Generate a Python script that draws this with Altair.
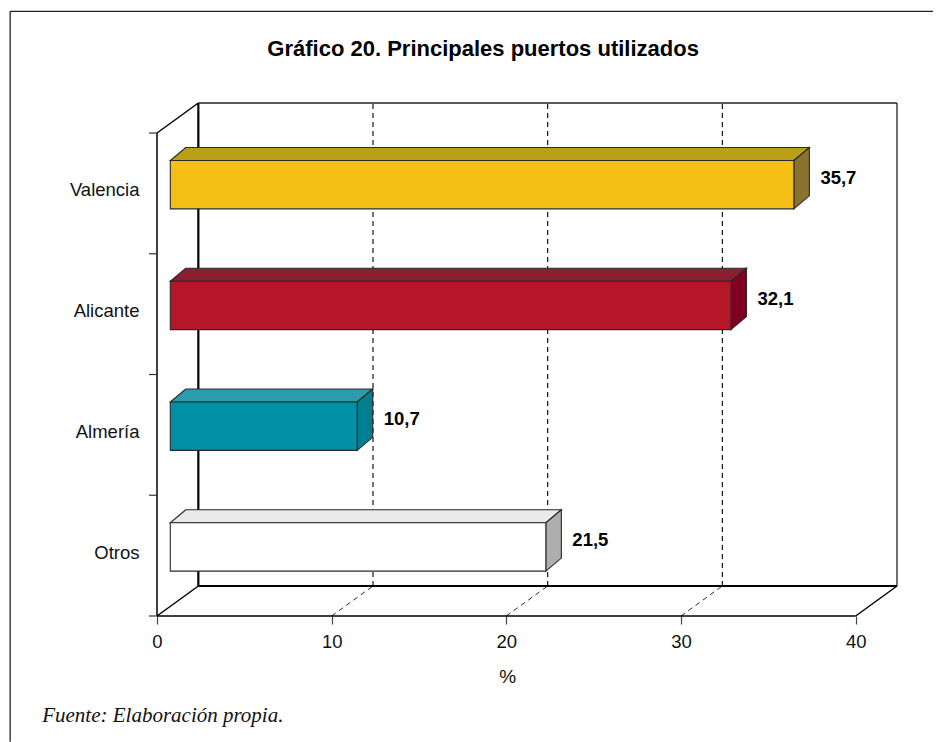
import altair as alt
import pandas as pd

categories = ["Otros", "Almería", "Alicante", "Valencia"]
values = [21.5, 10.7, 32.1, 35.7]
value_labels = ["21,5", "10,7", "32,1", "35,7"]
front_colors = ["#FFFFFF", "#0090A5", "#B51628", "#F5C013"]
top_colors = ["#EAEAEA", "#2B9CAE", "#8A202E", "#BBA017"]
side_colors = ["#AEAEAE", "#017F90", "#7F0022", "#8B7230"]
x_ticks = [0, 10, 20, 30, 40]
grid_ticks = [10, 20, 30]
title_text = "Gráfico 20. Principales puertos utilizados"
axis_title = "%"
source_text = "Fuente: Elaboración propia."

# scale factors of the picture
PX_X = 17.45      # px per x unit
PX_Y = 120.75     # px per category band
WALL_DX = 41.3 / PX_X
WALL_DY = 30.0 / PX_Y
BAR_X0 = 13.3 / PX_X
BAR_DX = 15.5 / PX_X
BAR_DY = 13.0 / PX_Y
BAR_LOW = 0.372
BAR_HIGH = 0.772
X_MAX = 40 + WALL_DX
Y_MAX = 4 + WALL_DY
X_LEFT_EDGE = (10.0 - 156.7) / PX_X
X_RIGHT_EDGE = (932.0 - 156.7) / PX_X
Y_TOP_EDGE = (615.7 - 11.0) / PX_Y
Y_BOTTOM_EDGE = (615.7 - 741.5) / PX_Y

xs = alt.Scale(domain=[0, X_MAX], nice=False, zero=False)
ys = alt.Scale(domain=[0, Y_MAX], nice=False, zero=False)

x_axis = alt.Axis(
    values=x_ticks, format="d", grid=False, domain=False, title=axis_title,
    tickSize=8, tickColor="#444444", tickWidth=1.2,
    labelFont="Liberation Sans", labelFontSize=18.5, labelColor="#111111",
    labelPadding=8, labelFlush=False,
    titleFont="Liberation Sans", titleFontSize=19, titleFontWeight="normal",
    titleColor="#111111", titleX=350.3, titlePadding=17,
)
label_positions = [i + 0.53 for i in range(len(categories))]
y_axis = alt.Axis(
    values=label_positions, grid=False, domain=False, ticks=False, title=None,
    labelExpr="['Otros','Almería','Alicante','Valencia'][floor(datum.value)]",
    labelFont="Liberation Sans", labelFontSize=18.5, labelColor="#111111",
    labelPadding=18,
)
X = lambda f: alt.X(f, scale=xs, axis=x_axis)
Y = lambda f: alt.Y(f, scale=ys, axis=y_axis)


def rules(rows, **kw):
    df = pd.DataFrame(rows, columns=["x", "x2", "y", "y2"])
    return alt.Chart(df).mark_rule(**kw).encode(
        x=X("x:Q"), x2="x2:Q", y=Y("y:Q"), y2="y2:Q",
    )


frame = rules(
    [[X_LEFT_EDGE, X_LEFT_EDGE, Y_BOTTOM_EDGE, Y_TOP_EDGE],
     [X_LEFT_EDGE, X_RIGHT_EDGE, Y_TOP_EDGE, Y_TOP_EDGE]],
    color="#222222", strokeWidth=1.3,
)
wall_thick = rules(
    [[WALL_DX, WALL_DX, WALL_DY, Y_MAX],
     [WALL_DX, X_MAX, WALL_DY, WALL_DY]],
    color="#000000", strokeWidth=2.2,
)
wall_thin = rules(
    [[WALL_DX, X_MAX, Y_MAX, Y_MAX],
     [X_MAX, X_MAX, WALL_DY, Y_MAX]],
    color="#222222", strokeWidth=1.3,
)
edges = rules(
    [[0, 0, 0, 4],
     [0, 40, 0, 0],
     [0, WALL_DX, 4, Y_MAX],
     [0, WALL_DX, 0, WALL_DY],
     [40, X_MAX, 0, WALL_DY]],
    color="#000000", strokeWidth=1.5,
)
y_ticks = rules(
    [[-8.0 / PX_X, 0, i, i] for i in range(5)],
    color="#333333", strokeWidth=1.2,
)
grid_wall = rules(
    [[g + WALL_DX, g + WALL_DX, WALL_DY, Y_MAX] for g in grid_ticks],
    color="#000000", strokeWidth=1.1, strokeDash=[5, 4],
)
grid_floor = rules(
    [[g, g + WALL_DX, 0, WALL_DY] for g in grid_ticks],
    color="#111111", strokeWidth=0.9, strokeDash=[5, 4],
)

front_rows, top_rows, side_rows = [], [], []
for i, v in enumerate(values):
    lo, hi = i + BAR_LOW, i + BAR_HIGH
    x0, x1 = BAR_X0, BAR_X0 + v
    front_rows.append(dict(x=x0, x2=x1, y=lo, y2=hi, fill=front_colors[i]))
    top_rows.append(dict(y=hi, x=x0, x2=x1, fill=top_colors[i]))
    top_rows.append(dict(y=hi + BAR_DY, x=x0 + BAR_DX, x2=x1 + BAR_DX, fill=top_colors[i]))
    side_rows.append(dict(x=x1, y=lo, y2=hi, fill=side_colors[i]))
    side_rows.append(dict(x=x1 + BAR_DX, y=lo + BAR_DY, y2=hi + BAR_DY, fill=side_colors[i]))

bar_stroke = dict(stroke="#2a2a2a", strokeWidth=1.1)
tops = alt.Chart(pd.DataFrame(top_rows)).mark_area(orient="horizontal", **bar_stroke).encode(
    y=Y("y:Q"), x=X("x:Q"), x2="x2:Q", color=alt.Color("fill:N", scale=None),
)
sides = alt.Chart(pd.DataFrame(side_rows)).mark_area(orient="vertical", **bar_stroke).encode(
    x=X("x:Q"), y=Y("y:Q"), y2="y2:Q", color=alt.Color("fill:N", scale=None),
)
fronts = alt.Chart(pd.DataFrame(front_rows)).mark_rect(**bar_stroke).encode(
    x=X("x:Q"), x2="x2:Q", y=Y("y:Q"), y2="y2:Q", color=alt.Color("fill:N", scale=None),
)

label_df = pd.DataFrame({
    "x": [BAR_X0 + v + BAR_DX + 11 / PX_X for v in values],
    "y": [i + 0.628 for i in range(len(values))],
    "text": value_labels,
})
bar_labels = alt.Chart(label_df).mark_text(
    align="left", baseline="middle", font="Liberation Sans", fontSize=18.5,
    fontWeight="bold", color="#000000",
).encode(x=X("x:Q"), y=Y("y:Q"), text="text:N")

source = alt.Chart(pd.DataFrame({
    "x": [(42.0 - 156.7) / PX_X], "y": [(615.7 - 716.0) / PX_Y], "text": [source_text],
})).mark_text(
    align="left", baseline="middle", font="Liberation Serif", fontStyle="italic",
    fontSize=21, color="#111111",
).encode(x=X("x:Q"), y=Y("y:Q"), text="text:N")

title = alt.Chart(pd.DataFrame({
    "x": [(482.5 - 156.7) / PX_X], "y": [(615.7 - 49.0) / PX_Y], "text": [title_text],
})).mark_text(
    align="center", baseline="middle", font="Liberation Sans", fontSize=22,
    fontWeight="bold", color="#000000",
).encode(x=X("x:Q"), y=Y("y:Q"), text="text:N")

chart = alt.layer(
    frame, wall_thick, wall_thin, grid_wall, grid_floor, edges, y_ticks,
    tops, sides, fronts, bar_labels, source, title,
).properties(
    width=740, height=513,
    padding={"left": 1, "top": 2, "right": 0, "bottom": 0},
).configure_view(stroke=None)

chart.save("out.html", embed_options={"renderer": "svg", "actions": False})
